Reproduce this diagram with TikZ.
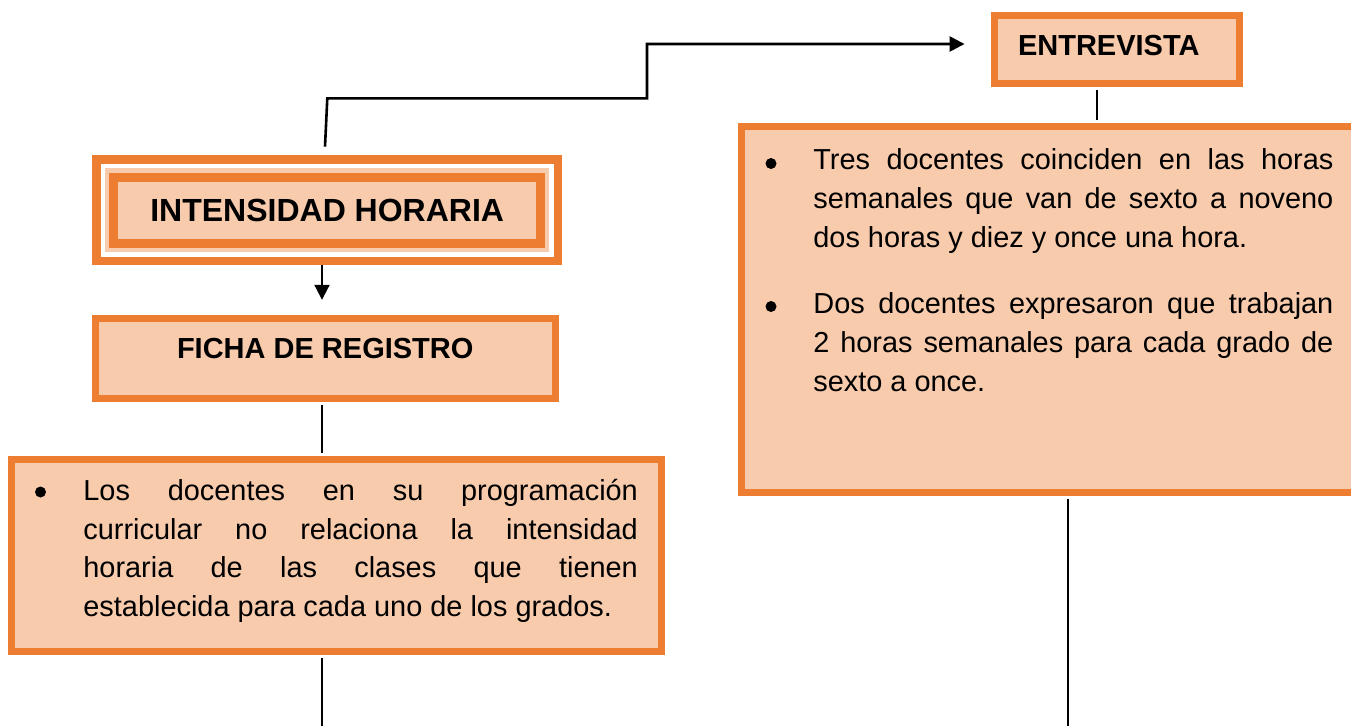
\documentclass[tikz,border=0pt]{standalone}
\usepackage{fontspec}
\setmainfont{Liberation Sans}
\usetikzlibrary{arrows.meta}
\definecolor{naranja}{RGB}{237,125,49}
\definecolor{durazno}{RGB}{248,203,173}

\begin{document}
\begin{tikzpicture}[x=0.5pt,y=-0.5pt,
  caja/.style={draw=naranja,fill=durazno,line width=3.5pt,inner sep=0pt},
  titulo/.style={font=\bfseries\fontsize{14.5}{17}\selectfont},
  texto/.style={inner sep=0pt,anchor=north west,align=justify,
    font=\fontsize{14.45}{19.35}\selectfont},
  vineta/.style={fill=black},
  linea/.style={line width=1pt,shorten <=1.75pt,shorten >=1.75pt},
  flecha/.style={line width=1.3pt,-{Triangle[length=7.5pt,width=7.5pt]}}]
\useasboundingbox (0,0) rectangle (1351,725);

% recuadros
\node[caja,fill=white,line width=4.35pt,minimum width=230.75pt,minimum height=50.75pt] (ihx) at (327.25,210.25) {};
\node[caja,line width=4.5pt,preaction={draw=durazno,line width=8.8pt},
  minimum width=213.35pt,minimum height=33.15pt,
  font=\bfseries\fontsize{16}{19}\selectfont] (ih) at (327.2,210.3) {INTENSIDAD HORARIA};
\node[caja,titulo,minimum width=229.75pt,minimum height=39.7pt,
  text height=10pt,text depth=10pt] (fr) at (325.25,358.5) {FICHA DE REGISTRO};
\node[caja,titulo,minimum width=122.75pt,minimum height=33.7pt,
  text height=10.4pt,text depth=4pt] (en) at (1116.8,49.5) {ENTREVISTA\hspace*{8pt}};
\node[caja,minimum width=324.75pt,minimum height=95.75pt] (lb) at (336.25,555.25) {};
\node[caja,minimum width=314.25pt,minimum height=182.75pt] (rb) at (1055.75,309.25) {};

% textos
\node[texto,text width=277.25pt] (lt) at (83,476) {\hyphenpenalty=10000
  \noindent\rule{0pt}{12pt}Los docentes en su programación\linebreak
  curricular no relaciona la intensidad\linebreak
  horaria de las clases que tienen\linebreak
  establecida para cada uno de los grados.};
\node[texto,text width=260pt] (rt) at (813,145.3) {\hyphenpenalty=10000
  \noindent\rule{0pt}{12pt}Tres docentes coinciden en las horas\linebreak
  semanales que van de sexto a noveno\linebreak
  dos horas y diez y once una hora.\par
  \vspace{14pt}
  \noindent Dos docentes expresaron que trabajan\linebreak
  2 horas semanales para cada grado de\linebreak
  sexto a once.};
\fill[vineta] (40.5,492) circle (5.5);
\fill[vineta] (771,163.5) circle (5.5);
\fill[vineta] (771,306.5) circle (5.5);

% conectores
\coordinate (xl) at (322,0);
\coordinate (xr) at (1097,0);
\coordinate (fl) at (322,735);
\coordinate (fr2) at (1068,735);
\coordinate (c1) at (327.3,98.3);
\coordinate (c2) at (647,44);
\draw[flecha,line width=1pt,shorten >=7.75pt] (ihx.south -| xl) -- (fr.north -| xl);
\draw[linea] (fr.south -| xl) -- (lb.north -| xl);
\draw[linea] (lb.south -| xl) -- (fl);
\draw[flecha] ([xshift=-1.125pt,yshift=4.25pt]ihx.north) -- (c1) -| (c2)
  -- ([xshift=-13pt,yshift=2.75pt]en.west);
\draw[linea] (en.south -| xr) -- (rb.north -| xr);
\draw[linea] (rb.south -| fr2) -- (fr2);
\end{tikzpicture}
\end{document}
